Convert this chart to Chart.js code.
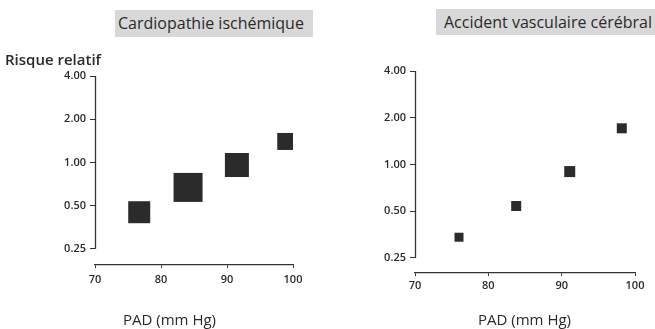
<!DOCTYPE html>
<html lang="fr">
<head>
<meta charset="UTF-8">
<title>Risque relatif et PAD</title>
<script src="https://cdn.jsdelivr.net/npm/chart.js"></script>
<style>
    body {
        margin: 0;
        background: #fff;
        font-family: 'Open Sans', sans-serif;
        color: #222;
        width: 655px;
        height: 329px;
        overflow: hidden;
        position: relative;
    }

    .panel {
        position: absolute;
        top: 0;
        height: 329px;
    }

    .title-box {
        position: absolute;
        background: #d8d8d8;
        font-size: 16px;
        line-height: 27px;
        padding-left: 3px;
        white-space: nowrap;
        box-sizing: border-box;
        color: #2a2a2a;
    }

    .label {
        position: absolute;
        white-space: nowrap;
        font-size: 15px;
        line-height: 18px;
        color: #2a2a2a;
    }
</style>
</head>
<body>
    <div class="panel" style="left:0;width:330px"><canvas id="ihdChart"></canvas></div>
    <div class="panel" style="left:330px;width:325px"><canvas id="strokeChart"></canvas></div>

    <div class="title-box" style="left:115px;top:10px;width:198px;height:27px">Cardiopathie ischémique</div>
    <div class="title-box" style="left:436px;top:9px;width:219px;height:26px;padding-left:8px">Accident vasculaire cérébral</div>

    <div class="label" style="left:5px;top:50px;font-weight:600">Risque relatif</div>
    <div class="label" style="left:123px;top:310px">PAD (mm Hg)</div>
    <div class="label" style="left:478px;top:310px">PAD (mm Hg)</div>

<script>
// axis ticks
const padTicks = [70, 80, 90, 100];
const riskTicks = [0.25, 0.5, 1, 2, 4];

// Cardiopathie ischemique
const ihdPad = [76.7, 84.1, 91.5, 98.9];
const ihdRisk = [0.45, 0.67, 0.96, 1.40];

// Accident vasculaire cerebral
const strokePad = [76.0, 83.8, 91.1, 98.2];
const strokeRisk = [0.34, 0.54, 0.90, 1.71];

// square side in px for each point (style only)
const ihdSide = [22, 29, 24, 17];
const strokeSide = [9, 10, 11, 10];

// y axis line drawn from 4.00 down to 0.25 only, leaving a gap above the x axis
const yAxisLine = {
    id: 'yAxisLine',
    beforeDatasetsDraw(chart) {
        const ctx = chart.ctx;
        const y = chart.scales.y;
        const x = Math.round(chart.chartArea.left) + 0.5;
        ctx.save();
        ctx.strokeStyle = '#333';
        ctx.lineWidth = 1.3;
        ctx.beginPath();
        ctx.moveTo(x, y.getPixelForValue(riskTicks[riskTicks.length - 1]));
        ctx.lineTo(x, y.getPixelForValue(riskTicks[0]));
        ctx.stroke();
        ctx.restore();
    }
};

function makeChart(id, pad, risk, sides, layout) {
    const ctx = document.getElementById(id).getContext('2d');
    return new Chart(ctx, {
        type: 'scatter',
        data: {
            datasets: [{
                data: pad.map((p, i) => ({ x: p, y: risk[i] })),
                pointStyle: 'rect',
                pointRadius: sides.map(s => s / Math.SQRT2),
                backgroundColor: '#2b2b2b',
                borderWidth: 0
            }]
        },
        options: {
            responsive: true,
            maintainAspectRatio: false,
            animation: false,
            events: [],
            layout: {
                padding: { top: layout.top, right: layout.right, bottom: 0, left: 0 }
            },
            plugins: {
                legend: { display: false },
                tooltip: { enabled: false }
            },
            scales: {
                x: {
                    type: 'linear',
                    min: padTicks[0],
                    max: padTicks[padTicks.length - 1],
                    afterBuildTicks: s => { s.ticks = padTicks.map(v => ({ value: v })); },
                    afterFit: s => { s.height = layout.xHeight; },
                    border: { display: true, color: '#333', width: 1.3 },
                    grid: { drawOnChartArea: false, drawTicks: true, tickLength: 3, color: '#333' },
                    ticks: {
                        color: '#2a2a2a',
                        padding: layout.xPad,
                        font: { family: 'Open Sans', size: 11, weight: '600' }
                    }
                },
                y: {
                    type: 'logarithmic',
                    min: layout.yMin,
                    max: riskTicks[riskTicks.length - 1],
                    afterBuildTicks: s => { s.ticks = riskTicks.map(v => ({ value: v })); },
                    afterFit: s => { s.width = layout.yWidth; },
                    border: { display: false },
                    grid: { drawOnChartArea: false, drawTicks: true, tickLength: 5, color: '#333' },
                    ticks: {
                        color: '#2a2a2a',
                        padding: 4,
                        font: { family: 'Open Sans', size: 11, weight: '600' },
                        callback: v => Number(v).toFixed(2)
                    }
                }
            }
        },
        plugins: [yAxisLine]
    });
}

makeChart('ihdChart', ihdPad, ihdRisk, ihdSide,
    { top: 76, right: 37, xHeight: 64, yWidth: 95, yMin: 0.193, xPad: 5 });
makeChart('strokeChart', strokePad, strokeRisk, strokeSide,
    { top: 71, right: 20, xHeight: 56, yWidth: 85, yMin: 0.2, xPad: 3 });
</script>
</body>
</html>
